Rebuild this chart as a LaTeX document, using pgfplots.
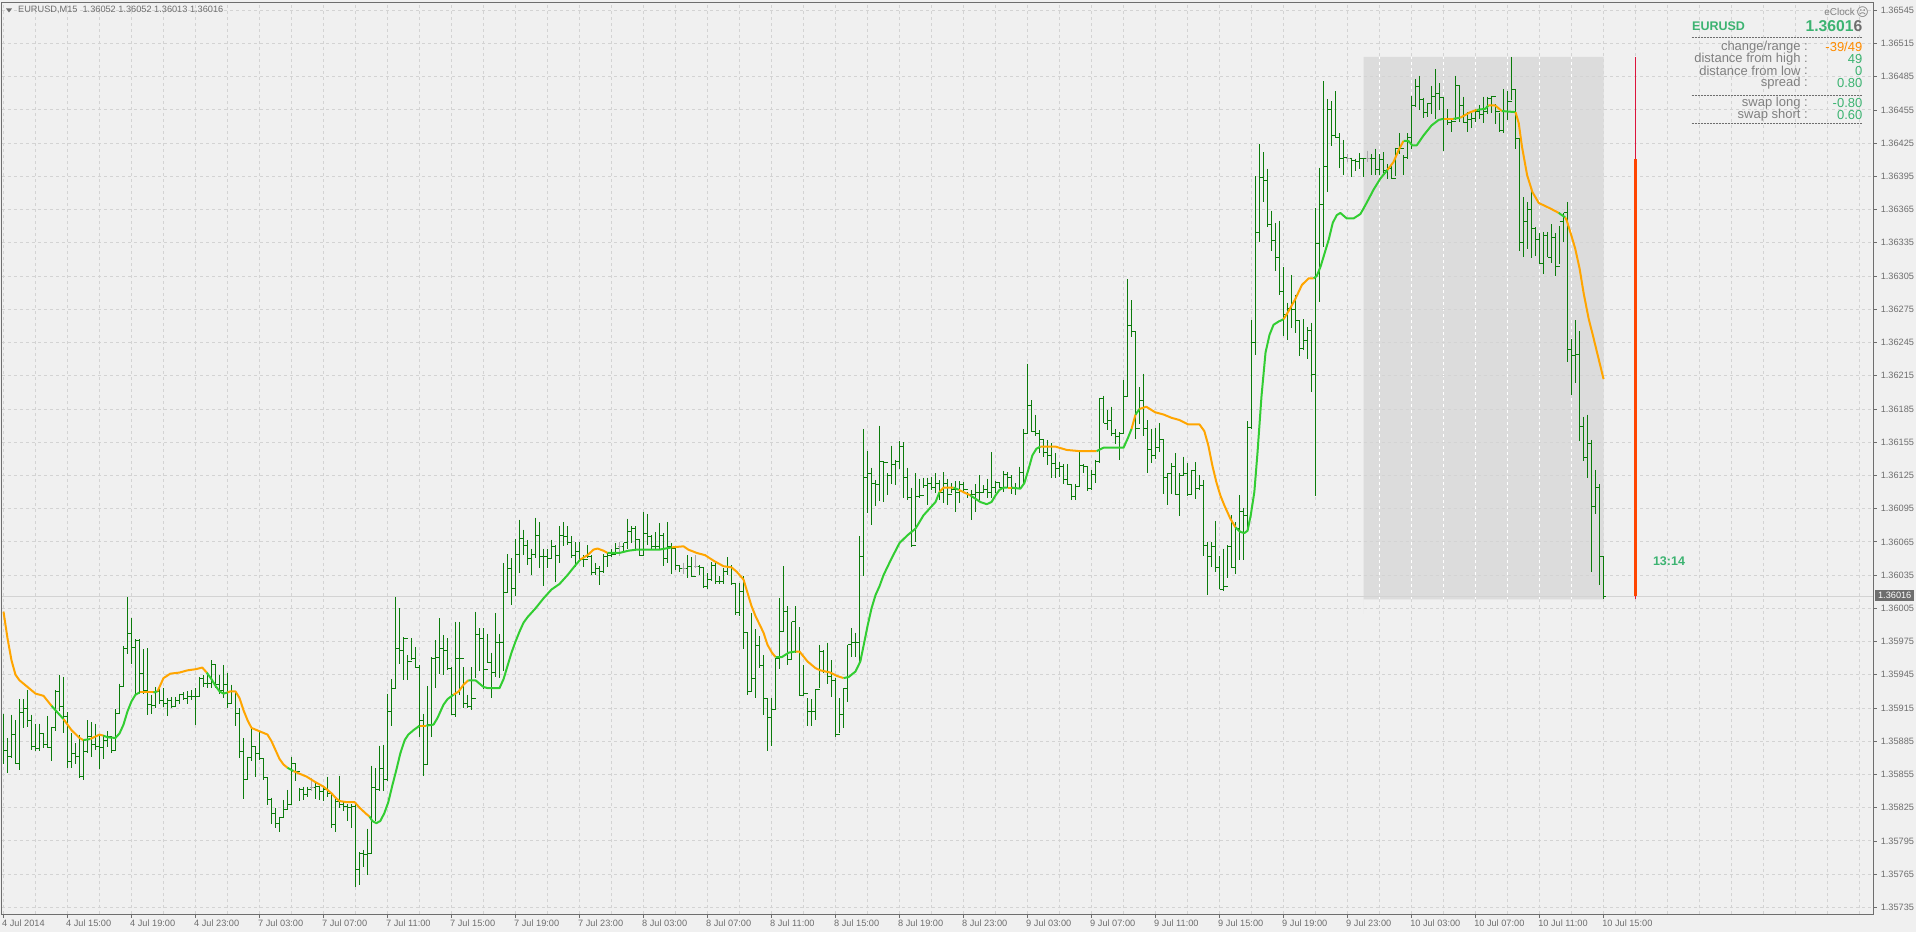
\documentclass[border=0pt]{standalone}
\usepackage{fontspec}
\setmainfont{Liberation Sans}
\newfontfamily\symfont{DejaVu Sans}
\usepackage{pgfplots}
\usepackage{pgfplotstable}
\pgfplotsset{compat=1.18}
\definecolor{bg}{HTML}{F0F0F0}
\definecolor{gridc}{HTML}{D3D3D3}
\definecolor{rectc}{HTML}{DCDCDC}
\definecolor{frame}{HTML}{6E6E6E}
\definecolor{barc}{HTML}{0B7B0B}
\definecolor{dojic}{HTML}{A9A9A9}
\definecolor{linegreen}{HTML}{32CD32}
\definecolor{lineorange}{HTML}{FFA500}
\definecolor{redthin}{HTML}{DC143C}
\definecolor{redthick}{HTML}{FF4500}
\definecolor{panelgreen}{HTML}{3CB371}
\definecolor{paneltext}{HTML}{808080}
\definecolor{ticktext}{HTML}{6E6E6E}
% values are points above 1.36000 (1 = 0.00001)
\pgfplotstableread{
h l c
-90 -136 -123
-112 -144 -129
-91 -130 -109
-96 -136 -135
-77 -141 -89
-77 -103 -85
-69 -102 -96
-91 -123 -120
-99 -124 -122
-99 -124 -108
-108 -121 -118
-92 -121 -121
-102 -133 -103
-69 -106 -70
-55 -88 -84
-57 -108 -93
-89 -139 -133
-108 -139 -126
-117 -136 -129
-109 -148 -147
-114 -150 -124
-96 -126 -111
-98 -129 -118
-99 -123 -120
-109 -140 -121
-109 -131 -114
-106 -120 -111
-112 -126 -123
-86 -123 -90
-63 -90 -66
-29 -66 -31
15 -36 -18
-4 -45 -30
-23 -73 -24
-23 -72 -54
-32 -72 -69
-31 -91 -82
-73 -90 -83
-66 -85 -70
-64 -81 -78
-67 -84 -81
-76 -92 -78
-75 -85 -84
-75 -84 -78
-72 -81 -73
-71 -78 -76
-70 -81 -75
-69 -78 -75
-67 -100 -75
-57 -75 -58
-55 -66 -63
-53 -67 -63
-42 -67 -46
-46 -67 -64
-55 -72 -69
-46 -76 -64
-53 -85 -81
-64 -81 -70
-70 -101 -90
-85 -130 -124
-112 -167 -150
-129 -150 -130
-103 -133 -120
-120 -147 -126
-106 -132 -131
-131 -150 -148
-148 -173 -168
-166 -190 -180
-175 -193 -189
-183 -197 -184
-168 -184 -177
-159 -177 -172
-129 -172 -135
-135 -151 -142
-157 -169 -159
-156 -168 -163
-156 -165 -159
-148 -160 -157
-153 -167 -156
-156 -168 -160
-156 -169 -159
-147 -165 -162
-162 -193 -190
-166 -197 -169
-146 -175 -172
-169 -178 -174
-172 -187 -175
-172 -193 -174
-172 -247 -231
-215 -245 -216
-213 -229 -217
-194 -236 -216
-137 -216 -157
-139 -187 -159
-119 -160 -140
-118 -160 -150
-72 -151 -88
-59 -101 -67
15 -67 -31
5 -45 -33
-21 -60 -22
-37 -60 -43
-22 -42 -40
-30 -49 -48
-46 -111 -96
-90 -146 -136
-65 -136 -100
-39 -111 -40
-24 -67 -39
-4 -54 -31
-19 -55 -33
-22 -51 -49
-48 -91 -91
-7 -93 -40
-7 -73 -40
-48 -85 -81
-73 -85 -84
-48 -87 -76
2 -58 -19
-13 -52 -22
-13 -68 -50
-18 -44 -44
-35 -76 -53
1 -57 -26
-18 -58 -26
46 -52 19
54 19 41
50 8 23
68 16 54
85 37 68
76 53 62
67 44 50
59 35 54
87 50 71
83 41 52
59 25 52
59 41 50
67 50 61
62 29 53
79 46 71
83 61 70
79 62 64
70 50 53
65 42 56
65 47 49
53 42 49
62 50 52
53 35 37
46 35 41
43 26 38
54 37 52
55 42 53
59 51 54
64 54 59
65 52 61
64 55 64
86 59 74
79 64 77
79 59 67
68 52 53
92 52 73
90 62 70
71 59 61
74 58 61
82 59 71
73 43 50
83 46 61
64 36 59
61 40 44
44 38 41
46 36 41
53 32 43
51 33 34
53 41 43
44 35 42
42 23 25
37 22 31
47 30 44
46 27 29
34 27 29
41 27 38
51 35 43
44 26 27
28 -1 1
28 -2 20
34 -32 -17
-17 -73 -70
1 -71 -58
-14 -76 -29
-20 -49 -47
-37 -91 -76
-77 -124 -94
-76 -119 -86
-40 -86 -40
14 -50 -16
43 -16 2
7 -46 -41
-7 -41 -7
7 -35 -34
-12 -74 -74
-46 -74 -72
-76 -101 -88
-77 -101 -88
-68 -96 -68
-28 -67 -34
-33 -53 -52
-26 -63 -57
-42 -75 -60
-58 -111 -109
-76 -108 -91
-67 -103 -67
-28 -80 -28
-13 -39 -26
-17 -39 -26
70 -44 52
167 34 123
147 91 127
132 80 118
121 97 117
170 102 138
138 101 137
127 107 125
152 117 135
139 116 138
156 131 151
155 105 123
132 103 105
114 60 62
127 65 106
122 105 107
123 114 116
123 98 118
124 112 114
127 109 118
121 103 110
128 100 118
122 98 108
118 109 112
120 92 110
120 100 117
119 110 112
110 105 108
112 85 108
117 92 110
125 103 110
116 109 112
122 105 110
146 105 114
120 109 119
119 114 114
129 110 126
128 114 123
125 108 113
118 107 113
133 113 128
167 117 163
226 163 188
193 164 165
180 161 163
166 145 157
157 142 146
157 134 143
154 123 136
145 123 131
137 124 133
135 117 121
135 116 117
117 103 106
117 103 115
147 115 134
135 127 133
133 111 113
130 112 126
139 118 138
195 136 194
197 172 172
184 166 175
187 161 163
167 153 160
164 139 163
211 163 196
302 196 260
283 250 255
255 158 167
205 171 193
217 161 167
175 127 148
167 136 143
168 140 150
172 146 157
158 108 123
127 98 127
136 108 133
145 107 108
127 88 125
142 125 127
136 106 108
130 107 129
137 104 113
125 112 116
121 52 62
65 17 52
65 42 61
84 38 42
52 22 22
59 21 25
62 32 61
89 41 42
83 36 77
107 49 92
96 49 89
174 76 168
265 167 245
395 234 344
424 336 394
417 372 391
402 349 352
364 328 337
353 310 322
355 288 291
313 251 270
281 247 276
306 258 275
288 254 265
265 233 240
266 238 247
259 230 256
263 200 216
366 106 334
403 282 370
481 331 404
465 381 455
463 422 432
472 430 430
434 403 411
428 396 412
415 408 411
412 394 409
411 400 408
416 402 411
412 394 411
418 408 411
415 396 411
420 396 401
415 396 410
417 398 400
406 393 402
404 393 393
421 395 420
434 415 420
414 396 412
434 411 430
468 420 459
483 458 476
486 455 464
466 448 453
461 449 461
477 451 467
492 447 470
479 455 466
467 418 447
456 441 444
446 435 445
486 446 477
477 444 459
467 443 444
453 435 446
452 439 447
456 444 454
459 447 451
467 443 454
467 451 465
468 452 467
460 442 454
452 435 436
474 434 454
472 446 463
503 464 473
474 420 429
429 328 335
376 322 354
372 329 365
384 321 348
349 323 338
344 316 316
345 307 342
345 322 322
352 317 340
344 305 314
350 316 354
362 336 362
372 227 239
248 198 233
265 208 234
255 156 169
178 138 141
180 123 154
157 38 97
130 90 114
117 26 52
52 13 16
}\bars
\pgfplotstableread{
x h l c
77 -148 -160 -157
154 65 52 61
170 46 36 41
173 53 41 43
336 415 408 411
341 418 408 411
}\doji
\tikzset{
  g/.style={linegreen,line width=2pt,line join=round},
  o/.style={lineorange,line width=2pt,line join=round},
  paneltxt/.style={inner sep=0pt,font=\fontsize{13}{15}\selectfont,text=paneltext,anchor=east},
  panelval/.style={inner sep=0pt,font=\fontsize{13}{15}\selectfont,text=panelgreen,anchor=east},
}
\newcommand{\PX}[2]{({#1 pt},{932pt-#2 pt})}
\begin{document}
\begin{tikzpicture}[x=1pt,y=1pt]
\path[use as bounding box,fill=bg] (0,0) rectangle (1916pt,932pt);
\begin{axis}[
  at={(2pt,18pt)},anchor=south west,
  scale only axis,width=1871pt,height=911.5pt,
  xmin=-0.375,xmax=467.375,ymin=-271,ymax=552,
  axis line style={frame,line width=1pt},
  tick align=outside,
  tick style={frame,line width=0.8pt},
  major tick length=3.5pt,minor tick length=0pt,
  xtick pos=bottom,ytick pos=right,
  xticklabel pos=bottom,yticklabel pos=right,
  grid=both,
  major grid style={gridc,dash pattern=on 3pt off 3pt,line width=0.9pt},
  minor grid style={gridc,dash pattern=on 3pt off 3pt,line width=0.9pt},
  xtick={0,16,...,400},
  minor xtick={8,24,...,392,408,416,...,464},
  xticklabels={4 Jul 2014,4 Jul 15:00,4 Jul 19:00,4 Jul 23:00,7 Jul 03:00,7 Jul 07:00,7 Jul 11:00,7 Jul 15:00,7 Jul 19:00,7 Jul 23:00,8 Jul 03:00,8 Jul 07:00,8 Jul 11:00,8 Jul 15:00,8 Jul 19:00,8 Jul 23:00,9 Jul 03:00,9 Jul 07:00,9 Jul 11:00,9 Jul 15:00,9 Jul 19:00,9 Jul 23:00,10 Jul 03:00,10 Jul 07:00,10 Jul 11:00,10 Jul 15:00},
  ytick={-265,-235,...,545},
  yticklabels={1.35735,1.35765,1.35795,1.35825,1.35855,1.35885,1.35915,1.35945,1.35975,1.36005,1.36035,1.36065,1.36095,1.36125,1.36155,1.36185,1.36215,1.36245,1.36275,1.36305,1.36335,1.36365,1.36395,1.36425,1.36455,1.36485,1.36515,1.36545},
  x tick label style={anchor=north west,inner sep=0pt,xshift=-1.5pt,yshift=-2pt,font=\fontsize{9.2}{11}\selectfont,text=ticktext},
  y tick label style={anchor=west,inner sep=0pt,xshift=4pt,font=\fontsize{9.2}{11}\selectfont,text=ticktext},
]
% daily range rectangle
\addplot[draw=none,fill=rectc,forget plot] coordinates {(340,13) (400,13) (400,503) (340,503)} \closedcycle;
\pgfplotsinvokeforeach{344,352,...,392}{\draw[white,dash pattern=on 3pt off 3pt,line width=0.9pt] (axis cs:#1,13)--(axis cs:#1,503);}
\pgfplotsinvokeforeach{35,65,...,485}{\draw[gridc,dash pattern=on 3pt off 3pt,line width=0.9pt] (axis cs:340,#1)--(axis cs:400,#1);}
% current price line
\addplot[gridc,line width=1pt,forget plot] coordinates {(-0.375,16) (467.375,16)};
% OHLC bars
\addplot[barc,line width=1pt,no marks,quiver={u=0,v=\thisrow{l}-\thisrow{h}}] table[x expr=\coordindex,y=h] {\bars};
\addplot[barc,line width=1pt,no marks,quiver={u=0.5,v=0}] table[x expr=\coordindex,y=c] {\bars};
\addplot[barc,line width=1pt,no marks,skip coords between index={400}{401},quiver={u=-0.5,v=0}] table[x expr=\coordindex+1,y=c] {\bars};
\addplot[dojic,line width=1pt,no marks,quiver={u=0,v=\thisrow{l}-\thisrow{h}}] table[x=x,y=h] {\doji};
\addplot[dojic,line width=1pt,no marks,quiver={u=0.5,v=0}] table[x=x,y=c] {\doji};
\addplot[dojic,line width=1pt,no marks,quiver={u=-0.5,v=0}] table[x=x,y=c] {\doji};
% indicator line
\addplot[o] coordinates {(0,2)(1,-22)(2,-42)(3,-55)(4,-60)(6,-66)(8,-72)(10,-74)(12,-83)};
\addplot[g] coordinates {(12,-83)(15,-95)};
\addplot[o] coordinates {(15,-95)(17,-105)(19,-112)(20,-114)};
\addplot[g] coordinates {(20,-114)(21.7,-113)};
\addplot[o] coordinates {(21.7,-113)(24,-109)(25,-110)};
\addplot[g] coordinates {(25,-110)(26,-111.5)(28,-112)(29,-108)(30,-100)(31,-88)(32,-79)(33,-73)(34,-71)};
\addplot[o] coordinates {(34,-71)(37.5,-71)};
\addplot[g] coordinates {(37.5,-71)(38.5,-70)};
\addplot[o] coordinates {(38.5,-70)(40,-58)(41.7,-54)(44,-53)(46,-51)(48,-50)(49.7,-48.5)(50.8,-53)};
\addplot[g] coordinates {(50.8,-53)(52,-59)(53,-65)(54,-70)(55,-72)(56,-71)};
\addplot[o] coordinates {(56,-71)(56.7,-70)(58,-70)(59,-76)(60,-87)(61,-96)(62,-103)(64,-106)(66,-109)(67,-115)(68,-123)(69,-131)(70,-136)(71,-139)};
\addplot[g] coordinates {(71,-139)(72.5,-142)};
\addplot[o] coordinates {(72.5,-142)(73.8,-144)(75.8,-147)(78,-152)(80,-156)(82,-162)(83,-166)(84,-169)(85.8,-170)(87.8,-170)(89,-175)(90.8,-181)(91.5,-183)};
\addplot[g] coordinates {(91.5,-183)(92.2,-187)(93.2,-189)(94.2,-187)(95.2,-180)(96.2,-170)(97.2,-155)(98.2,-141)(99.2,-126)(100.3,-114)(101.2,-109)(102.5,-105)(104,-101)};
\addplot[o] coordinates {(104,-101)(105.7,-101)};
\addplot[g] coordinates {(105.7,-101)(107.5,-100)(108.5,-94)(110,-82)(111,-77)(112.5,-73)};
\addplot[o] coordinates {(112.5,-73)(113.8,-70)(115,-64)(116.2,-60)};
\addplot[g] coordinates {(116.2,-60)(118,-60)(119,-63)(120,-66)(121,-67)(124,-67)(125,-59)(126,-47)(127,-35)(128,-25)(129,-16)(130,-8)(131,-3)(133,5)(135,14)(137,22)(139,27)(141,35)(143,44)(144.2,49)};
\addplot[o] coordinates {(144.2,49)(146,53)(147.5,58)(148.5,59)(150,57)(151,55)};
\addplot[g] coordinates {(151,55)(154,55)(156.2,57)(158.3,58)(164,58)(167,60)};
\addplot[o] coordinates {(167,60)(170,61)(171.2,58)(173.3,55)(175.4,53)(177.5,48)(180,43)(182,42)(183.3,38)(185,31)(186,19)(187,7)(188,-2)(190,-17)(191,-28)(192.1,-35)(193,-39)};
\addplot[g] coordinates {(193,-39)(194.6,-39)(196.3,-35)(198,-34)};
\addplot[o] coordinates {(198,-34)(199,-34)(201,-43)(203,-49)(204.2,-51)(206.7,-53)(208.3,-56)(210,-58)};
\addplot[g] coordinates {(210,-58)(211.3,-57)(213,-52)(214.2,-43)(215,-29)(216,-11)(217,5)(218,17)(219,25)(220,35)(222,50)(224,64)(226,71)(228,77)(230,89)(232,97)(233,101)(234,110)};
\addplot[o] coordinates {(234,110)(235,114)(237.5,114)};
\addplot[g] coordinates {(237.5,114)(238.8,112)};
\addplot[o] coordinates {(238.8,112)(241.7,107)};
\addplot[g] coordinates {(241.7,107)(244.2,101)(245.8,99)(247,101)(248,107)(249,112)(250,114)(251,114)};
\addplot[o] coordinates {(251,114)(252,114)};
\addplot[g] coordinates {(252,114)(254.2,113)(255.2,118)(256.2,130)(257.2,143)(258.2,149)(259.2,151)};
\addplot[o] coordinates {(259.2,151)(263,151)(265.8,148)(268.8,147)(273.3,147)};
\addplot[g] coordinates {(273.3,147)(275,150)(277,150)(280,150)(281,158)(282,167)};
\addplot[o] coordinates {(282,167)(283,180)};
\addplot[g] coordinates {(283,180)(284,185)};
\addplot[o] coordinates {(284,185)(285.7,187)(287.9,182)(290,180)(292,177)(294,175)(296.2,171)(299,171)(300.2,165)(301.2,152)(302.2,134)(303.2,119)(304.2,107)(305.2,98)(306.7,86)(308,78)};
\addplot[g] coordinates {(308,78)(309.2,74)(310.2,73)(311,75)(311.8,89)(312.7,110)(313.5,146)(314.5,197)(315.5,236)(316.5,252)(317.5,261)(318.8,264)(320,266)};
\addplot[o] coordinates {(320,266)(321.2,273)(322.9,284)(324.6,297)(326.3,303)(327.5,303)};
\addplot[g] coordinates {(327.5,303)(328.3,305)(329.3,314)(330.3,326)(331.3,338)(332.3,353)(333.3,360)(334.2,362)(335.8,357)(337.5,357)(339.2,361)(340,366)(341.2,374)(342.5,383)(344.2,393)(346,401)};
\addplot[o] coordinates {(346,401)(347.5,408)(348.8,419)(350,427)};
\addplot[g] coordinates {(350,427)(351.2,427)(352.2,423)(353.3,423)(355,432)(357,441)(358.8,446)(360,447)};
\addplot[o] coordinates {(360,447)(362.5,447)};
\addplot[g] coordinates {(362.5,447)(364.2,448)};
\addplot[o] coordinates {(364.2,448)(366.7,453)(368.3,455)};
\addplot[g] coordinates {(368.3,455)(370.4,456)(371.2,459)};
\addplot[o] coordinates {(371.2,459)(372.9,459)(374.6,454)};
\addplot[g] coordinates {(374.6,454)(378,453)};
\addplot[o] coordinates {(378,453)(378.8,443)(379.6,422)(380.9,396)(382.2,381)(383.8,371)(386.7,366)(388.8,362)};
\addplot[g] coordinates {(388.8,362)(390.4,358)};
\addplot[o] coordinates {(390.4,358)(390.8,355)(392,341)(392.9,330)(394,312)(395,290)(396.25,267)(397.5,249)(400,212)};
% red range bar
\addplot[redthin,line width=1pt] coordinates {(408,13) (408,503)};
\addplot[redthick,line width=3pt] coordinates {(408,16) (408,411)};
\end{axis}
% header
\fill[frame] (6pt,{932pt-8.5pt}) -- (12pt,{932pt-8.5pt}) -- (9pt,{932pt-12.5pt}) -- cycle;
\node[anchor=west,inner sep=0pt,font=\fontsize{9.2}{11}\selectfont,text=ticktext] at \PX{18}{10} {EURUSD,M15\ \ 1.36052 1.36052 1.36013 1.36016};
% current price label
\node[anchor=west,fill=frame,text=white,inner sep=0pt,minimum width=39pt,minimum height=11pt,align=center,font=\fontsize{9.2}{11}\selectfont] at \PX{1875}{595.5} {1.36016};
% panel
\node[anchor=east,inner sep=0pt,font=\fontsize{10}{12}\selectfont,text=paneltext] at \PX{1855}{12} {eClock};
\node[anchor=center,inner sep=0pt,font=\symfont\fontsize{12}{12}\selectfont,text=paneltext] at \PX{1862.5}{12} {☹};
\node[anchor=west,inner sep=0pt,font=\bfseries\fontsize{12.5}{15}\selectfont,text=panelgreen] at \PX{1692}{26} {EURUSD};
\node[anchor=east,inner sep=0pt,font=\bfseries\fontsize{15.7}{18}\selectfont,text=panelgreen] at \PX{1862.5}{26.5} {1.3601\textcolor{frame}{6}};
\foreach \yy in {37.3,95.3,123.3} \draw[frame,line width=0.8pt,dash pattern=on 2pt off 1pt] \PX{1691.7}{\yy} -- \PX{1862.6}{\yy};
\foreach \yy/\lab/\val in {58.7/distance from high/49,70.7/distance from low/0,82.7/spread/0.80,102.7/swap long/-0.80,114.7/swap short/0.60}{
  \node[paneltxt] at \PX{1800.7}{\yy} {\lab};
  \node[paneltxt] at \PX{1808}{\yy} {:};
  \node[panelval] at \PX{1862.5}{\yy} {\val};
}
\node[paneltxt] at \PX{1800.7}{46.7} {change/range};
\node[paneltxt] at \PX{1808}{46.7} {:};
\node[panelval,text={rgb,255:red,255;green,140;blue,0}] at \PX{1862.5}{46.7} {-39/49};
\node[inner sep=0pt,font=\bfseries\fontsize{12.5}{15}\selectfont,text=panelgreen] at \PX{1669}{561} {13:14};
\end{tikzpicture}
\end{document}
